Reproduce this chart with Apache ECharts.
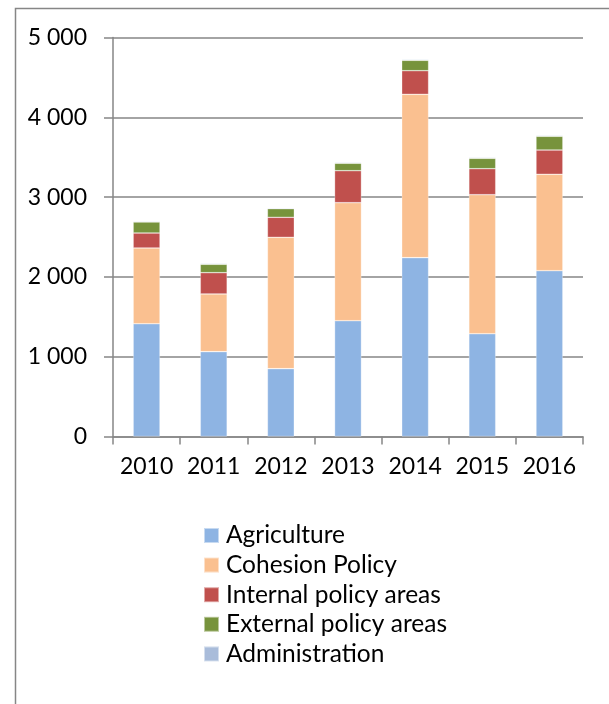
<!DOCTYPE html>
<html>
<head>
<meta charset="utf-8">
<script src="https://cdn.jsdelivr.net/npm/echarts@6/dist/echarts.min.js"></script>
<style>
html,body{margin:0;padding:0;background:#fff;}
#chart{width:609px;height:704px;}
</style>
</head>
<body>
<div id="chart"></div>
<script>
var categories = ['2010','2011','2012','2013','2014','2015','2016'];
var agriculture = [1413, 1063, 850, 1451, 2241, 1288, 2078];
var cohesion = [949, 723, 1646, 1479, 2047, 1742, 1208];
var internalPolicy = [188, 267, 251, 401, 296, 326, 304];
var externalPolicy = [138, 105, 108, 93, 130, 130, 172];
var administration = [10, 10, 10, 10, 10, 10, 10];
var yTicks = [0, 1000, 2000, 3000, 4000, 5000];

var seriesNames = ['Agriculture','Cohesion Policy','Internal policy areas','External policy areas','Administration'];
var seriesData = [agriculture, cohesion, internalPolicy, externalPolicy, administration];
var colors = ['#8EB4E3','#FAC090','#C0504D','#77933C','#A9BCDA'];

function fmt(v){
  var s = String(v);
  return s.replace(/\B(?=(\d{3})+(?!\d))/g, ' ');
}

var chart = echarts.init(document.getElementById('chart'), null, {renderer:'canvas'});
var axisGray = '#868686';
chart.setOption({
  animation: false,
  color: colors,
  textStyle: {fontFamily: 'Lato'},
  graphic: [{
    type: 'polyline',
    shape: {points: [[15.5, 704], [15.5, 8.5], [609, 8.5]]},
    style: {stroke: axisGray, lineWidth: 1.5, fill: null},
    silent: true
  }],
  legend: {
    orient: 'vertical',
    left: 203,
    top: 521.5,
    padding: 0,
    itemWidth: 15,
    itemHeight: 15,
    itemGap: 1.6,
    icon: 'rect',
    textStyle: {fontFamily: 'Lato', fontSize: 24.5, color: '#000', lineHeight: 28, padding: [0,0,0,2]},
    data: seriesNames
  },
  grid: {left: 113, right: 26, top: 37.5, bottom: 267.5, containLabel: false},
  xAxis: {
    type: 'category',
    data: categories,
    axisLine: {lineStyle: {color: axisGray, width: 1.5}},
    axisTick: {show: true, alignWithLabel: false, length: 8, lineStyle: {color: axisGray, width: 1.5}},
    axisLabel: {color: '#000', fontSize: 23, fontFamily: 'Lato', margin: 19, interval: 0}
  },
  yAxis: {
    type: 'value',
    min: yTicks[0],
    max: yTicks[yTicks.length-1],
    interval: 1000,
    axisLine: {show: true, lineStyle: {color: axisGray, width: 1.5}},
    axisTick: {show: true, length: 9, lineStyle: {color: axisGray, width: 1.5}},
    splitLine: {show: true, lineStyle: {color: axisGray, width: 1.5}},
    axisLabel: {color: '#000', fontSize: 23, fontFamily: 'Lato', margin: 26, formatter: function(v){return fmt(v);}}
  },
  series: seriesNames.map(function(name, i){
    return {
      name: name,
      type: 'bar',
      stack: 'total',
      barWidth: '40%',
      data: seriesData[i],
      itemStyle: {color: colors[i], borderColor: 'rgba(255,255,255,0.5)', borderWidth: 0.6}
    };
  })
});
</script>
</body>
</html>
